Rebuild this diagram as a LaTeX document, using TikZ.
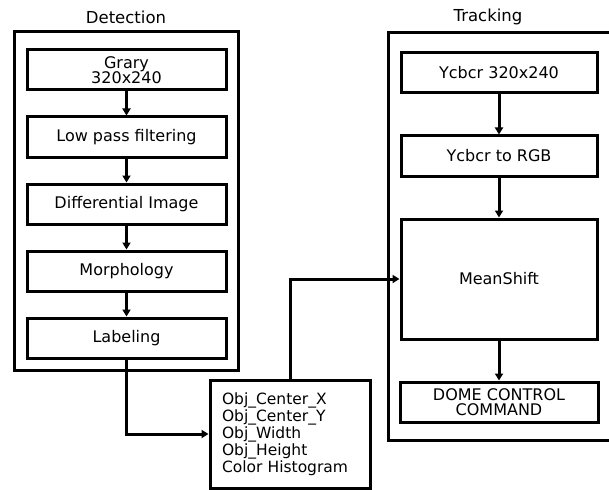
\documentclass[tikz,border=0pt]{standalone}
\usepackage{fontspec}
\setmainfont{DejaVu Sans}
\usetikzlibrary{arrows.meta, positioning}
\tikzset{
  % Block styles
  stage/.style={rectangle, draw=black, line width=3pt, minimum width=199pt, minimum height=40pt, inner sep=0pt, text centered, align=center, font=\fontsize{16}{15.5}\selectfont},
  panel/.style={rectangle, draw=black, line width=3pt, inner sep=0pt},
  title/.style={font=\fontsize{16.5}{16}\selectfont},
  infobox/.style={rectangle, draw=black, line width=3pt, minimum width=160pt, minimum height=108pt, text width=136pt, inner xsep=12pt, align=left, font=\fontsize{15.5}{17}\selectfont},
  arrow/.style={-{Triangle[length=7pt,width=8pt]}, line width=3pt},
}
\begin{document}
\begin{tikzpicture}[x=1pt, y=-1pt, node distance=24pt]
    \useasboundingbox (0,0) rectangle (609,489);

    % Detection
    \node[panel, minimum width=224pt, minimum height=338pt] (det) at (126,201) {};
    \node[title, above=3pt of det] (dettitle) {Detection};
    \node[stage] (gray) at (126.5,70) {Grary\\320x240};
    \node[stage, below=of gray] (lpf) {Low pass filtering};
    \node[stage, below=of lpf] (diff) {Differential Image};
    \node[stage, below=of diff] (morph) {Morphology};
    \node[stage, below=of morph] (label) {Labeling};
    \draw[arrow] (gray) -- (lpf);
    \draw[arrow] (lpf) -- (diff);
    \draw[arrow] (diff) -- (morph);
    \draw[arrow] (morph) -- (label);

    % Tracking
    \node[panel, minimum width=224pt, minimum height=407pt] (trk) at (500,236.5) {};
    \node[title, above=3pt of trk.north, xshift=-12pt] (trktitle) {Tracking};
    \node[stage, minimum width=196pt] (ycbcr) at (499,73) {Ycbcr 320x240};
    \node[stage, minimum width=196pt, below=40pt of ycbcr] (rgb) {Ycbcr to RGB};
    \node[stage, minimum width=196pt, minimum height=120pt, below=40pt of rgb] (mshift) {MeanShift};
    \node[stage, minimum width=198pt, below=40pt of mshift] (dome) {DOME CONTROL\\COMMAND};
    \draw[arrow] (ycbcr) -- (rgb);
    \draw[arrow] (rgb) -- (mshift);
    \draw[arrow] (mshift) -- (dome);

    % Object info
    \node[infobox] (obj) at (290,434) {Obj\_Center\_X\\Obj\_Center\_Y\\Obj\_Width\\Obj\_Height\\Color Histogram};
    \draw[arrow] (label.south) |- (obj.west);
    \draw[arrow] (obj.north) |- (mshift.west);
\end{tikzpicture}
\end{document}
